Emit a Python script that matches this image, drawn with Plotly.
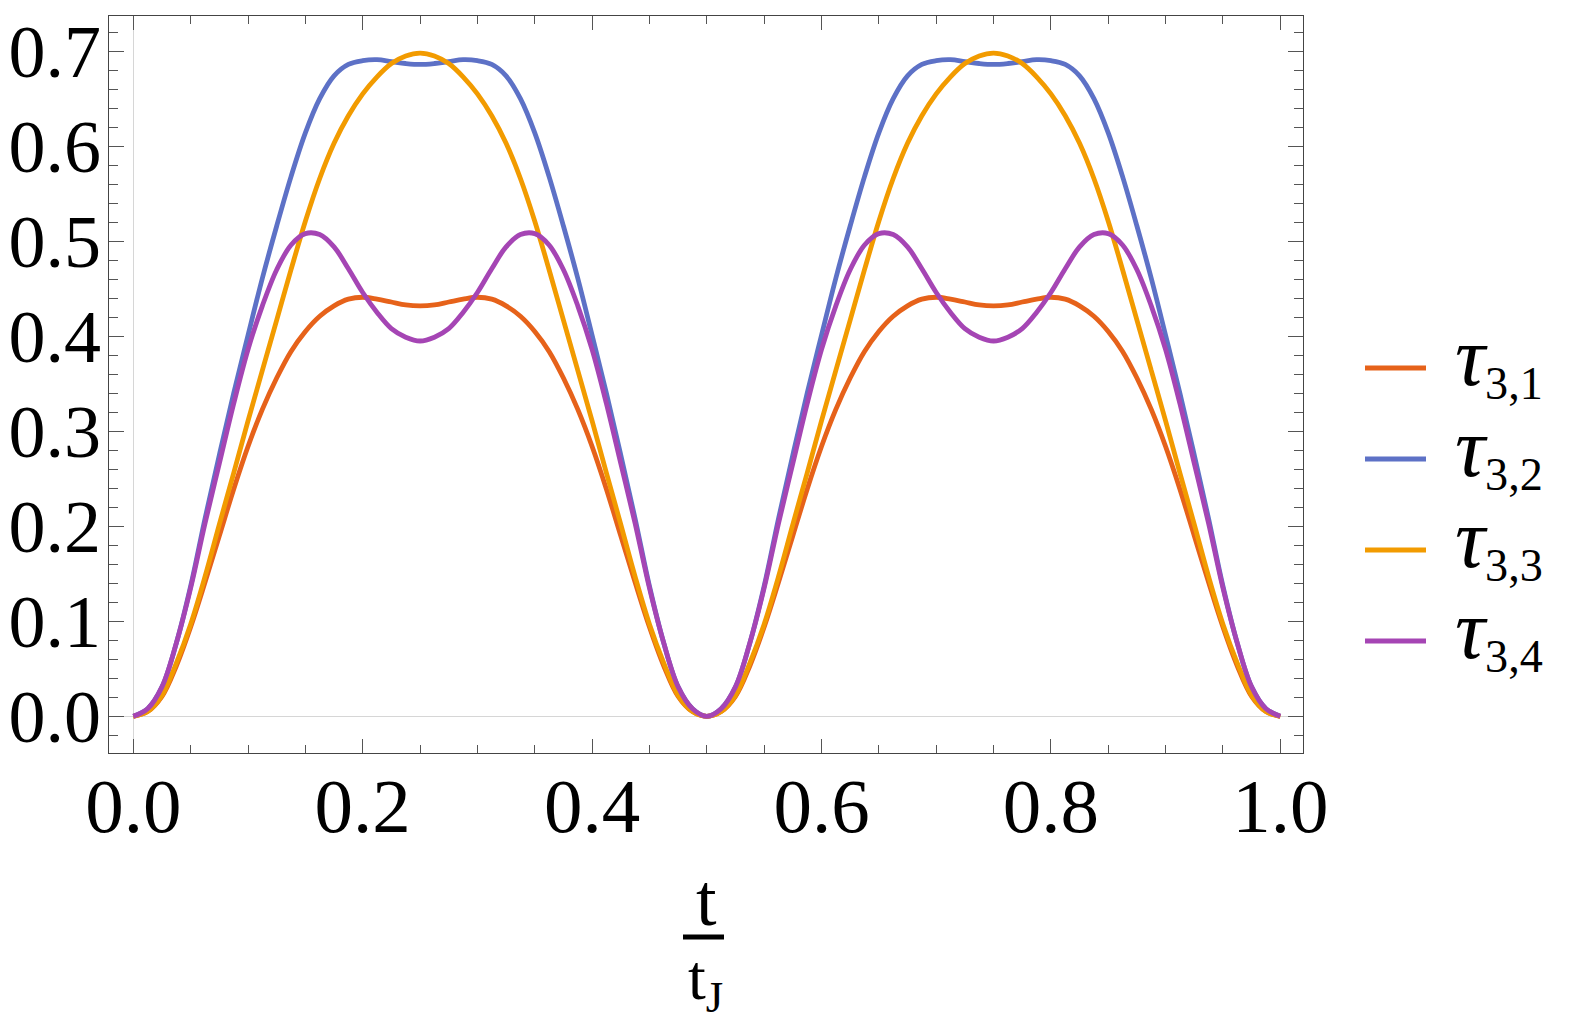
import plotly.graph_objects as go

# ---------------- data ----------------
t = [round(i * 0.0125, 4) for i in range(81)]

tau31 = [
    0.000, 0.005, 0.021, 0.053, 0.094, 0.141, 0.190, 0.239, 0.284, 0.323, 0.356,
    0.384, 0.405, 0.421, 0.432, 0.439, 0.441, 0.439, 0.436, 0.433, 0.432,
    0.433, 0.436, 0.439, 0.441, 0.439, 0.432, 0.421, 0.405, 0.384, 0.356,
    0.323, 0.284, 0.239, 0.190, 0.141, 0.094, 0.053, 0.021, 0.005, 0.000,
    0.005, 0.021, 0.053, 0.094, 0.141, 0.190, 0.239, 0.284, 0.323, 0.356,
    0.384, 0.405, 0.421, 0.432, 0.439, 0.441, 0.439, 0.436, 0.433, 0.432,
    0.433, 0.436, 0.439, 0.441, 0.439, 0.432, 0.421, 0.405, 0.384, 0.356,
    0.323, 0.284, 0.239, 0.190, 0.141, 0.094, 0.053, 0.021, 0.005, 0.000]

tau32 = [
    0.000, 0.008, 0.031, 0.077, 0.137, 0.208, 0.275, 0.340, 0.401, 0.461, 0.516,
    0.568, 0.614, 0.650, 0.674, 0.686, 0.690, 0.691, 0.689, 0.687, 0.686,
    0.687, 0.689, 0.691, 0.690, 0.686, 0.674, 0.650, 0.614, 0.568, 0.516,
    0.461, 0.401, 0.340, 0.275, 0.208, 0.137, 0.077, 0.031, 0.008, 0.000,
    0.008, 0.031, 0.077, 0.137, 0.208, 0.275, 0.340, 0.401, 0.461, 0.516,
    0.568, 0.614, 0.650, 0.674, 0.686, 0.690, 0.691, 0.689, 0.687, 0.686,
    0.687, 0.689, 0.691, 0.690, 0.686, 0.674, 0.650, 0.614, 0.568, 0.516,
    0.461, 0.401, 0.340, 0.275, 0.208, 0.137, 0.077, 0.031, 0.008, 0.000]

tau33 = [
    0.000, 0.005, 0.022, 0.056, 0.097, 0.147, 0.202, 0.256, 0.311, 0.364, 0.417,
    0.470, 0.521, 0.566, 0.603, 0.632, 0.655, 0.673, 0.687, 0.695, 0.698,
    0.695, 0.687, 0.673, 0.655, 0.632, 0.603, 0.566, 0.521, 0.470, 0.417,
    0.364, 0.311, 0.256, 0.202, 0.147, 0.097, 0.056, 0.022, 0.005, 0.000,
    0.005, 0.022, 0.056, 0.097, 0.147, 0.202, 0.256, 0.311, 0.364, 0.417,
    0.470, 0.521, 0.566, 0.603, 0.632, 0.655, 0.673, 0.687, 0.695, 0.698,
    0.695, 0.687, 0.673, 0.655, 0.632, 0.603, 0.566, 0.521, 0.470, 0.417,
    0.364, 0.311, 0.256, 0.202, 0.147, 0.097, 0.056, 0.022, 0.005, 0.000]

tau34 = [
    0.000, 0.008, 0.031, 0.077, 0.135, 0.203, 0.266, 0.329, 0.386, 0.432, 0.470,
    0.496, 0.508, 0.507, 0.494, 0.471, 0.446, 0.425, 0.408, 0.399, 0.395,
    0.399, 0.408, 0.425, 0.446, 0.471, 0.494, 0.507, 0.508, 0.496, 0.470,
    0.432, 0.386, 0.329, 0.266, 0.203, 0.135, 0.077, 0.031, 0.008, 0.000,
    0.008, 0.031, 0.077, 0.135, 0.203, 0.266, 0.329, 0.386, 0.432, 0.470,
    0.496, 0.508, 0.507, 0.494, 0.471, 0.446, 0.425, 0.408, 0.399, 0.395,
    0.399, 0.408, 0.425, 0.446, 0.471, 0.494, 0.507, 0.508, 0.496, 0.470,
    0.432, 0.386, 0.329, 0.266, 0.203, 0.135, 0.077, 0.031, 0.008, 0.000]

series_subs = ["3,1", "3,2", "3,3", "3,4"]
series_values = [tau31, tau32, tau33, tau34]
colors = ["#E6621A", "#5D71C6", "#F29B00", "#A545B4"]

# ---------------- layout constants (page pixels) ----------------
W_FIG, H_FIG = 1578, 1024
PAGE_OFF = 8                      # body margin of the html page
L, R, T, B = 109, 1303, 16, 753   # plot frame in page pixels
PW, PH = R - L, B - T
FONT = "Liberation Serif, Times New Roman, serif"


def px_x(X):
    return (X - L) / PW


def px_y(Y):
    return (B - Y) / PH


fig = go.Figure()
for sub, vals, col in zip(series_subs, series_values, colors):
    fig.add_trace(go.Scatter(
        x=t, y=vals, mode="lines", name="τ" + sub,
        line=dict(color=col, width=4.8, shape="spline", smoothing=1.0),
        showlegend=False,
    ))

axis_common = dict(
    showline=True, linecolor="#444444", linewidth=1.2, mirror="allticks",
    ticks="inside", tickcolor="#555555", tickwidth=1,
    showgrid=False, zeroline=True, zerolinecolor="#d6d6d6", zerolinewidth=1,
    tickformat=".1f", automargin=False,
)

fig.update_xaxes(
    range=[-0.0212, 1.0198], tick0=0, dtick=0.2, ticklen=14,
    ticklabelstandoff=-15,
    tickfont=dict(family=FONT, size=77, color="black"),
    minor=dict(dtick=0.05, ticklen=8, ticks="inside", tickcolor="#555555", tickwidth=1),
    **axis_common,
)
fig.update_yaxes(
    range=[-0.0386, 0.737], tick0=0, dtick=0.1, ticklen=15,
    ticklabelstandoff=-8,
    tickfont=dict(family=FONT, size=74, color="black"),
    minor=dict(dtick=0.02, ticklen=9, ticks="inside", tickcolor="#555555", tickwidth=1),
    **axis_common,
)

shapes = []
annotations = []

# manual legend
leg_y = [368, 459, 550, 641]
for sub, col, Y in zip(series_subs, colors, leg_y):
    shapes.append(dict(type="line", xref="paper", yref="paper",
                       x0=px_x(1365), x1=px_x(1426), y0=px_y(Y), y1=px_y(Y),
                       line=dict(color=col, width=4.8)))
    annotations.append(dict(
        xref="paper", yref="paper", x=px_x(1453), y=px_y(Y - 9),
        xanchor="left", yanchor="middle", showarrow=False,
        text='<span style="font-size:84px"><i>τ</i></span><sub>' + sub + "</sub>",
        font=dict(family=FONT, size=66, color="black"),
    ))

# axis title as fraction t / t_J
annotations.append(dict(
    xref="paper", yref="paper", x=px_x(706), y=px_y(900),
    xanchor="center", yanchor="middle", showarrow=False,
    text="t", font=dict(family=FONT, size=74, color="black"),
))
shapes.append(dict(type="line", xref="paper", yref="paper",
                   x0=px_x(683), x1=px_x(724), y0=px_y(937), y1=px_y(937),
                   line=dict(color="black", width=5)))
annotations.append(dict(
    xref="paper", yref="paper", x=px_x(705), y=px_y(982),
    xanchor="center", yanchor="middle", showarrow=False,
    text="t<sub>J</sub>", font=dict(family=FONT, size=64, color="black"),
))

fig.update_layout(
    width=W_FIG, height=H_FIG,
    margin=dict(l=L - PAGE_OFF, r=W_FIG - (R - PAGE_OFF), t=T - PAGE_OFF,
                b=H_FIG - (B - PAGE_OFF), pad=0, autoexpand=False),
    paper_bgcolor="white", plot_bgcolor="white",
    shapes=shapes, annotations=annotations,
    showlegend=False,
)

fig.write_html("out.html")
